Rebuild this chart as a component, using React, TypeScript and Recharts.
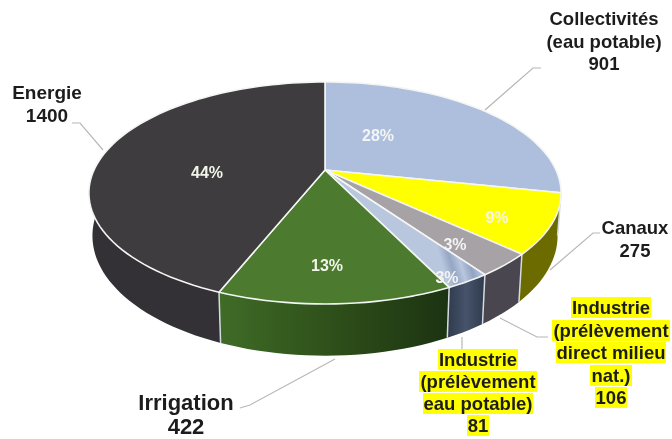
import { PieChart, Pie } from 'recharts'

const categories = [
  'Collectivités (eau potable)',
  'Canaux',
  'Industrie (prélèvement direct milieu nat.)',
  'Industrie (prélèvement eau potable)',
  'Irrigation',
  'Energie',
]
const volumes = [901, 275, 106, 81, 422, 1400]

const topColors = ['#aebfde', '#ffff00', '#a6a2a6', 'url(#topStripes)', '#4c7b2f', '#3e3c3f']
const wallColors = ['#6b6b00', '#6b6b00', '#4a4650', 'url(#wallSteel)', 'url(#wallGreen)', '#333135']

// where the percent labels sit, same order as categories
const percentPos = [
  [378, 135],
  [497, 217],
  [455, 244],
  [447, 277],
  [327, 265],
  [207, 172],
]

const total = volumes.reduce((a, b) => a + b, 0)
const topData = categories.map((name, i) => ({ name, value: volumes[i], fill: topColors[i] }))
const wallData = categories.map((name, i) => ({ name, value: volumes[i], fill: wallColors[i] }))

// perspective of the tilted disc
const SQUASH = 0.46
const TILT = 0.207
const DEPTH = 41
const FONT = '"Liberation Sans", Arial, sans-serif'

function project(cx: number, cy: number, r: number, deg: number) {
  const theta = ((90 - deg) * Math.PI) / 180
  const w = 1 + TILT * Math.cos(theta)
  return {
    x: cx + (r * Math.sin(theta)) / w,
    y: cy - (r * SQUASH * Math.cos(theta)) / w,
    w,
  }
}

function rim(props: any) {
  const { cx, cy, outerRadius, startAngle, endAngle } = props
  const steps = Math.max(2, Math.ceil(Math.abs(endAngle - startAngle) / 2))
  const pts = []
  for (let i = 0; i <= steps; i++) {
    pts.push(project(cx, cy, outerRadius, startAngle + ((endAngle - startAngle) * i) / steps))
  }
  return pts
}

function lower(p: { x: number; y: number; w: number }, cx: number) {
  return { x: cx + (p.x - cx) * 0.985, y: p.y + DEPTH / p.w }
}

function TopSlice(props: any) {
  const pts = rim(props)
  const d = `M${props.cx},${props.cy} ` + pts.map((p) => `L${p.x},${p.y}`).join(' ') + ' Z'
  return <path d={d} fill={props.fill} stroke="#f4f6f4" strokeWidth={1.6} strokeLinejoin="round" />
}

function WallSlice(props: any) {
  const pts = rim(props)
  const under = pts.map((p) => lower(p, props.cx)).reverse()
  const d = [...pts, ...under].map((p, i) => `${i ? 'L' : 'M'}${p.x},${p.y}`).join(' ') + ' Z'
  const first = pts[0]
  const firstLow = lower(first, props.cx)
  return (
    <g>
      <path d={d} fill={props.fill} stroke="none" />
      <line x1={first.x} y1={first.y} x2={firstLow.x} y2={firstLow.y} stroke="#d5dbe0" strokeWidth={1.5} />
    </g>
  )
}

function percentLabel(props: any) {
  const { index, value } = props
  const [x, y] = percentPos[index]
  return (
    <text
      x={x}
      y={y}
      textAnchor="middle"
      dominantBaseline="central"
      fill={index === 4 || index === 5 ? '#f2f5ea' : '#f4f4f4'}
      style={{ fontFamily: FONT, fontSize: 16, fontWeight: 700 }}
    >
      {Math.round((value / total) * 100)}%
    </text>
  )
}

function Note({ x, y, lines, size, lh, mark = false }: any) {
  return (
    <div
      style={{
        position: 'absolute',
        left: x - 100,
        top: y,
        width: 200,
        textAlign: 'center',
        fontFamily: FONT,
        fontWeight: 700,
        fontSize: size,
        lineHeight: `${lh}px`,
        color: '#1c1c1c',
        whiteSpace: 'nowrap',
      }}
    >
      {lines.map((t: string) => (
        <div key={t}>
          <span style={mark ? { background: '#ffff00', padding: '0 1px' } : undefined}>{t}</span>
        </div>
      ))}
    </div>
  )
}

const leaders = [
  '485,110 533,68 541,68',
  '72,123 80,123 103,150',
  '550,270 593,233 600,233',
  '500,318 537,337 548,337',
  '462,337 462,349',
  '335,359 250,405 240,408',
]

export default function App() {
  return (
    <div
      style={{
        position: 'absolute',
        left: 0,
        top: 0,
        width: 672,
        height: 439,
        background: '#fff',
        overflow: 'hidden',
        filter: 'blur(0.4px)',
      }}
    >
      <PieChart width={672} height={439} margin={{ top: 0, right: 0, bottom: 0, left: 0 }}>
        <defs>
          <linearGradient id="wallGreen" x1="0" y1="0" x2="1" y2="0">
            <stop offset="0%" stopColor="#3f6c27" />
            <stop offset="55%" stopColor="#2c4c18" />
            <stop offset="100%" stopColor="#1c3312" />
          </linearGradient>
          <linearGradient id="wallSteel" x1="0" y1="0" x2="1" y2="0">
            <stop offset="0%" stopColor="#2f3a4c" />
            <stop offset="50%" stopColor="#46536a" />
            <stop offset="100%" stopColor="#2f3a4c" />
          </linearGradient>
          <linearGradient id="topStripes" gradientUnits="userSpaceOnUse" x1="449" y1="287" x2="483" y2="277">
            <stop offset="0%" stopColor="#b8c6de" />
            <stop offset="25%" stopColor="#95a6c4" />
            <stop offset="50%" stopColor="#b8c6de" />
            <stop offset="75%" stopColor="#92a3c2" />
            <stop offset="100%" stopColor="#b8c6de" />
          </linearGradient>
        </defs>
        <Pie
          data={wallData}
          dataKey="value"
          nameKey="name"
          cx={325}
          cy={170}
          outerRadius={231}
          startAngle={90}
          endAngle={-270}
          stroke="none"
          shape={WallSlice}
          isAnimationActive={false}
        />
        <Pie
          data={topData}
          dataKey="value"
          nameKey="name"
          cx={325}
          cy={170}
          outerRadius={231}
          startAngle={90}
          endAngle={-270}
          shape={TopSlice}
          label={percentLabel}
          labelLine={false}
          isAnimationActive={false}
        />
      </PieChart>
      <svg width={672} height={439} style={{ position: 'absolute', left: 0, top: 0, pointerEvents: 'none' }}>
        {leaders.map((pts) => (
          <polyline key={pts} points={pts} fill="none" stroke="#b8b8b8" strokeWidth={1.2} />
        ))}
      </svg>
      <Note x={604} y={8} lines={['Collectivités', '(eau potable)', String(volumes[0])]} size={18.5} lh={22.5} />
      <Note x={47} y={81} lines={['Energie', String(volumes[5])]} size={19} lh={23} />
      <Note x={635} y={215.5} lines={['Canaux', String(volumes[1])]} size={18.5} lh={23} />
      <Note x={611} y={297} lines={['Industrie', '(prélèvement', 'direct milieu', 'nat.)', String(volumes[2])]} size={18.5} lh={22.5} mark />
      <Note x={478} y={349} lines={['Industrie', '(prélèvement', 'eau potable)', String(volumes[3])]} size={18.5} lh={22} mark />
      <Note x={186} y={390.5} lines={['Irrigation', String(volumes[4])]} size={22} lh={24} />
    </div>
  )
}
